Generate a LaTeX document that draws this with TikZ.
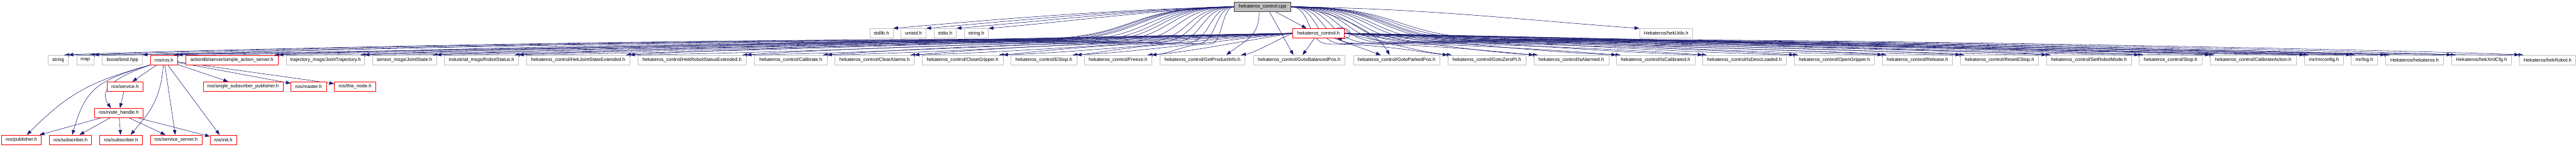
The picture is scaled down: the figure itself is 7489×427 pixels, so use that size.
\documentclass[tikz,border=0pt]{standalone}
\usepackage{fontspec}
\setmainfont{Liberation Sans}
\usetikzlibrary{arrows.meta,calc}
\pgfdeclarelayer{bg}
\pgfsetlayers{bg,main}
\definecolor{midblue}{HTML}{191970}
\definecolor{leafgray}{HTML}{BFBFBF}
\definecolor{rootborder}{HTML}{404040}
\definecolor{redb}{HTML}{FF0000}
\tikzset{
  nbox/.style={draw, line width=0.75pt, fill=white, minimum height=21pt, inner sep=0pt, font=\fontsize{10.5}{12.6}\selectfont},
  leaf/.style={nbox, draw=leafgray},
  redbox/.style={nbox, draw=redb},
  rootbox/.style={nbox, draw=rootborder, fill=leafgray},
  dep/.style={draw=midblue, line width=0.75pt, -{Triangle[length=10.5pt,width=7.5pt]}},
}
\newcommand\nd[6]{%
  \pgfmathsetmacro\ndw{(#3-#2)*0.75}%
  \pgfmathsetmacro\ndx{(#2+#3)/2}%
  \node[#5, minimum width=\ndw pt] (#1) at (\ndx,#4) {#6};%
}
% root -> left main-row target
\newcommand\rootL[2]{%
  \draw[dep] let \p1=(root.west), \p2=(#1.north east), \n1={0.17*(\x1-\x2)+22} in
   (\p1) .. controls ({\x1-0.55*\n1},{\y1}) and ({\x1-0.45*\n1},{-#2*0.75pt}) .. ({\x1-\n1},{-#2*0.75pt})
   .. controls ({\x1-\n1-0.45*(\x1-\n1-\x2)},{-#2*0.75pt}) and ({\x2+45pt},{\y2+4pt}) .. (\p2);%
}
% root -> right main-row target
\newcommand\rootR[2]{%
  \draw[dep] let \p1=(root.east), \p2=(#1.north west), \n1={0.17*(\x2-\x1)+22} in
   (\p1) .. controls ({\x1+0.55*\n1},{\y1}) and ({\x1+0.45*\n1},{-#2*0.75pt}) .. ({\x1+\n1},{-#2*0.75pt})
   .. controls ({\x1+\n1+0.45*(\x2-\x1-\n1)},{-#2*0.75pt}) and ({\x2-45pt},{\y2+4pt}) .. (\p2);%
}
% hekateros_control.h -> left / right targets
\newcommand\hchL[1]{%
  \draw[dep] let \p1=(hch.west), \p2=($(#1.north east)+(-12,0)$) in
   (\p1) .. controls ({0.7*\x1+0.3*\x2},{\y1-14pt}) and ({0.25*\x1+0.75*\x2},{\y2+4pt}) .. (\p2);%
}
\newcommand\hchR[1]{%
  \draw[dep] let \p1=(hch.east), \p2=($(#1.north west)+(12,0)$) in
   (\p1) .. controls ({0.7*\x1+0.3*\x2},{\y1-14pt}) and ({0.25*\x1+0.75*\x2},{\y2+4pt}) .. (\p2);%
}
\begin{document}
\begin{tikzpicture}[x=0.75pt,y=-0.75pt]
\useasboundingbox (0,0) rectangle (7489,427);
% ---- row 1
\nd{root}{3588.6}{3752.7}{19.85}{rootbox}{hekateros\_control.cpp}
% ---- row 2
\nd{stdlib}{2528.6}{2596.3}{97}{leaf}{stdlib.h}
\nd{unistd}{2619.2}{2692.2}{97}{leaf}{unistd.h}
\nd{stdio}{2715.1}{2780.4}{97}{leaf}{stdio.h}
\nd{stringh}{2803.3}{2873.5}{97}{leaf}{string.h}
\nd{hch}{3758.4}{3908.2}{97}{redbox}{hekateros\_control.h}
\nd{hekutils}{4766.5}{4921.2}{97}{leaf}{Hekateros/hekUtils.h}
% ---- row 3
\nd{string}{139.6}{198.4}{174.5}{leaf}{string}
\nd{map}{222.9}{273.1}{174.5}{leaf}{map}
\nd{bind}{297.6}{414.3}{174.5}{leaf}{boost/bind.hpp}
\nd{rosh}{437.6}{516.3}{174.5}{redbox}{ros/ros.h}
\nd{actionlib}{539.6}{809}{174.5}{redbox}{actionlib/server/simple\_action\_server.h}
\nd{traj}{833.1}{1059.6}{174.5}{leaf}{trajectory\_msgs/JointTrajectory.h}
\nd{sensor}{1083.3}{1268.6}{174.5}{leaf}{sensor\_msgs/JointState.h}
\nd{indus}{1291.8}{1507.8}{174.5}{leaf}{industrial\_msgs/RobotStatus.h}
\nd{hjse}{1531}{1831}{174.5}{leaf}{hekateros\_control/HekJointStateExtended.h}
\nd{hrse}{1853.9}{2169.8}{174.5}{leaf}{hekateros\_control/HekRobotStatusExtended.h}
\nd{calib}{2193.5}{2404.1}{174.5}{leaf}{hekateros\_control/Calibrate.h}
\nd{clear}{2427.3}{2658}{174.5}{leaf}{hekateros\_control/ClearAlarms.h}
\nd{close}{2681.2}{2915.9}{174.5}{leaf}{hekateros\_control/CloseGripper.h}
\nd{estop}{2939.2}{3129.8}{174.5}{leaf}{hekateros\_control/EStop.h}
\nd{freeze}{3153.1}{3347.8}{174.5}{leaf}{hekateros\_control/Freeze.h}
\nd{gpi}{3372.2}{3619.6}{174.5}{leaf}{hekateros\_control/GetProductInfo.h}
\nd{gbp}{3643.7}{3910.2}{174.5}{leaf}{hekateros\_control/GotoBalancedPos.h}
\nd{gpp}{3934.7}{4185.3}{174.5}{leaf}{hekateros\_control/GotoParkedPos.h}
\nd{gzp}{4208.6}{4436.3}{174.5}{leaf}{hekateros\_control/GotoZeroPt.h}
\nd{isal}{4459.2}{4676.7}{174.5}{leaf}{hekateros\_control/IsAlarmed.h}
\nd{iscal}{4699.2}{4927.3}{174.5}{leaf}{hekateros\_control/IsCalibrated.h}
\nd{isdl}{4950.2}{5193}{174.5}{leaf}{hekateros\_control/IsDescLoaded.h}
\nd{open}{5216.3}{5449.8}{174.5}{leaf}{hekateros\_control/OpenGripper.h}
\nd{release}{5473.1}{5675.9}{174.5}{leaf}{hekateros\_control/Release.h}
\nd{reset}{5699.6}{5926.5}{174.5}{leaf}{hekateros\_control/ResetEStop.h}
\nd{setmode}{5949.8}{6196.3}{174.5}{leaf}{hekateros\_control/SetRobotMode.h}
\nd{stop}{6219.2}{6401.6}{174.5}{leaf}{hekateros\_control/Stop.h}
\nd{calact}{6425.3}{6675.9}{174.5}{leaf}{hekateros\_control/CalibrateAction.h}
\nd{rnrcfg}{6700}{6812.2}{174.5}{leaf}{rnr/rnrconfig.h}
\nd{rnrlog}{6835.7}{6911}{174.5}{leaf}{rnr/log.h}
\nd{hekh}{6935}{7104.1}{174.5}{leaf}{Hekateros/hekateros.h}
\nd{xml}{7127.7}{7301.1}{174.5}{leaf}{Hekateros/hekXmlCfg.h}
\nd{robot}{7324.3}{7488.2}{174.5}{leaf}{Hekateros/hekRobot.h}
% ---- row 4
\nd{service}{312.2}{415.1}{252}{redbox}{ros/service.h}
\nd{ssp}{590.6}{822.4}{252}{redbox}{ros/single\_subscriber\_publisher.h}
\nd{master}{845.7}{948.6}{252}{redbox}{ros/master.h}
\nd{thisnode}{971.8}{1092.2}{252}{redbox}{ros/this\_node.h}
% ---- row 5
\nd{nh}{275.5}{415.1}{329}{redbox}{ros/node\_handle.h}
% ---- row 6
\nd{pub}{4.9}{119.6}{407}{redbox}{ros/publisher.h}
\nd{sub1}{143.7}{266.5}{407}{redbox}{ros/subscriber.h}
\nd{sub2}{290.2}{413.5}{407}{redbox}{ros/subscriber.h}
\nd{srvsrv}{437.1}{586.5}{407}{redbox}{ros/service\_server.h}
\nd{init}{610.6}{687.8}{407}{redbox}{ros/init.h}

\begin{pgfonlayer}{bg}
\fill[white] (0,0) rectangle (7489,427);
% root -> row 2
\draw[dep] (root.west) .. controls +(-350,8) and +(320,-28) .. (stdlib.north east);
\draw[dep] (root.west) .. controls +(-330,10) and +(300,-26) .. (unistd.north east);
\draw[dep] (root.west) .. controls +(-300,12) and +(280,-24) .. (stdio.north east);
\draw[dep] (root.west) .. controls +(-280,14) and +(260,-22) .. (stringh.north east);
\draw[dep] ($(root.south east)+(-45,0)$) -- ($(hch.north)+(-35,0)$);
\draw[dep] (root.east) .. controls +(400,5) and +(-350,-25) .. (hekutils.north west);
% root -> main row, left
\rootL{string}{114}
\rootL{map}{115}
\rootL{bind}{116}
\rootL{rosh}{117}
\rootL{actionlib}{118}
\rootL{traj}{119}
\rootL{sensor}{120}
\rootL{indus}{121}
\rootL{hjse}{122}
\rootL{hrse}{123}
\rootL{calib}{124}
\rootL{clear}{125}
\rootL{close}{126}
\rootL{estop}{127}
\rootL{freeze}{128}
% root -> near targets
\draw[dep] ($(root.south)+(-10,0)$) .. controls +(0,70) and +(60,-45) .. ($(gpi.north east)+(-55,0)$);
\draw[dep] ($(root.south)+(20,0)$) -- ($(gbp.north west)+(117,0)$);
\draw[dep] (root.east) .. controls +(120,10) and +(-40,-70) .. ($(gpp.north)+(-20,0)$);
% root -> main row, right
\rootR{gzp}{128}
\rootR{isal}{127}
\rootR{iscal}{126}
\rootR{isdl}{125}
\rootR{open}{124}
\rootR{release}{123}
\rootR{reset}{122}
\rootR{setmode}{121}
\rootR{stop}{120}
\rootR{calact}{119}
\rootR{rnrcfg}{118}
\rootR{rnrlog}{117}
\rootR{hekh}{116}
\rootR{xml}{115}
\rootR{robot}{114}
% hekateros_control.h -> main row
\hchL{string}
\hchL{map}
\hchL{rosh}
\hchL{actionlib}
\hchL{traj}
\hchL{sensor}
\hchL{indus}
\hchL{hjse}
\hchL{hrse}
\hchL{calib}
\hchL{clear}
\hchL{close}
\hchL{estop}
\hchL{freeze}
\hchL{gpi}
\draw[dep] ($(hch.south)+(-12,0)$) -- ($(gbp.north)+(10,0)$);
\draw[dep] ($(hch.south east)+(-30,0)$) -- ($(gpp.north west)+(80,0)$);
\hchR{gzp}
\hchR{isal}
\hchR{iscal}
\hchR{isdl}
\hchR{open}
\hchR{release}
\hchR{reset}
\hchR{setmode}
\hchR{stop}
\hchR{calact}
\hchR{rnrcfg}
\hchR{rnrlog}
\hchR{hekh}
\hchR{xml}
\hchR{robot}
% self loop
\draw[dep] ($(hch.north east)+(-25,0)$) .. controls +(55,-8) and +(50,4) .. ($(hch.south east)+(-22,0)$);
% ros/ros.h includes
\draw[dep] (rosh) -- (service);
\draw[dep] (rosh) -- (ssp);
\draw[dep] (rosh) -- (master);
\draw[dep] (rosh) -- (thisnode);
\draw[dep] (rosh) -- (srvsrv);
\draw[dep] (rosh) -- (init);
\draw[dep] ($(rosh.south)+(-2,0)$) .. controls +(-8,110) and +(45,-55) .. ($(sub2.north)+(28,0)$);
\draw[dep] (rosh.south west) .. controls +(-130,45) and +(-30,-45) .. ($(nh.north)+(-23,0)$);
\draw[dep] (rosh.south west) .. controls +(-180,50) and +(120,-120) .. ($(pub.north)+(16,0)$);
\draw[dep] (rosh.south west) .. controls +(-150,45) and +(40,-140) .. ($(sub1.north)+(5,0)$);
% ros/service.h
\draw[dep] (service) -- (nh);
% ros/node_handle.h
\draw[dep] (nh) -- (pub);
\draw[dep] (nh) -- (sub1);
\draw[dep] (nh) -- (sub2);
\draw[dep] (nh) -- (srvsrv);
\draw[dep] (nh) -- (init);
\end{pgfonlayer}
\end{tikzpicture}
\end{document}
